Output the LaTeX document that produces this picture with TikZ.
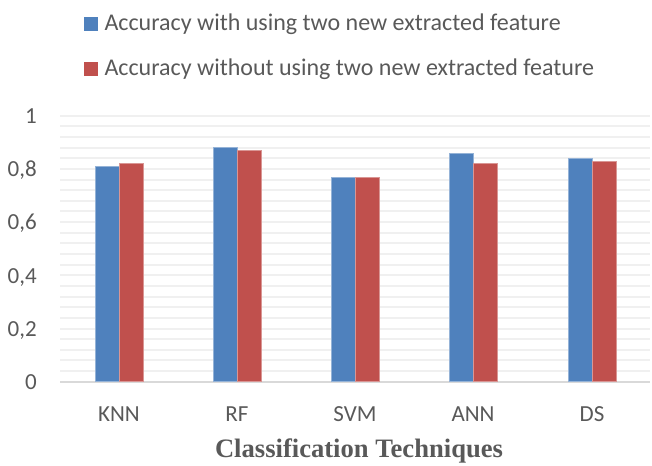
\documentclass[tikz,border=0pt]{standalone}
\usepackage{fontspec}
\setmainfont{Carlito}
\newfontfamily\titlefont{Liberation Serif}
\definecolor{serA}{HTML}{4F81BD}
\definecolor{serB}{HTML}{C0504D}
\definecolor{txt}{HTML}{595959}
\definecolor{grid}{HTML}{F0F0F0}
\definecolor{axis}{HTML}{D9D9D9}
\begin{document}
\begin{tikzpicture}[x=1pt,y=-1pt,
  lbl/.style={inner sep=0pt,text=txt,font=\fontsize{23}{27}\selectfont},
  leglbl/.style={inner sep=0pt,text=txt,font=\fontsize{24}{28}\selectfont},
  keybox/.style={minimum size=13.4pt,inner sep=0pt},
  gridline/.style={draw=grid,line width=2pt},
  barA/.style={fill=serA,draw=serA!60!white,line width=0.6pt},
  barB/.style={fill=serB,draw=serB!60!white,line width=0.6pt}]
\useasboundingbox (0,0) rectangle (652,465);
% value v sits at y = 381.7 - 266 v
\def\yz{381.7}
\def\ys{266}
% minor grid every 0.04
\foreach \k in {1,...,25}
  \draw[gridline] (60,{\yz-\ys*0.04*\k}) -- (650,{\yz-\ys*0.04*\k});
\draw[draw=axis,line width=2pt] (60,\yz) -- (650,\yz);
% y labels
\foreach \v/\t in {0/0,0.2/{0,2},0.4/{0,4},0.6/{0,6},0.8/{0,8},1/1}
  \node[lbl,anchor=base east] (y\v) at (37,{\yz-\ys*\v+7.8}) {\t};
% bars
\foreach \c/\a/\b/\n [count=\i] in {119/0.81/0.82/KNN,237/0.88/0.87/RF,355/0.77/0.77/SVM,473/0.86/0.82/ANN,592/0.84/0.83/DS}{
  \path[barA] (\c-24,\yz) rectangle (\c,{\yz-\ys*\a});
  \path[barB] (\c,\yz) rectangle (\c+24,{\yz-\ys*\b});
  \node[lbl,anchor=base] (cat\i) at (\c,421.7) {\n};
}
% axis title
\node[inner sep=0pt,anchor=base,text=txt,font=\titlefont\bfseries\fontsize{26.6}{30}\selectfont] (xtitle) at (359,457) {Classification Techniques};
% legend
\node[keybox,fill=serA] (keyA) at (91,24) {};
\node[leglbl,anchor=base west] (legA) at (104.3,30.7) {Accuracy with using two new extracted feature};
\node[keybox,fill=serB] (keyB) at (91,69) {};
\node[leglbl,anchor=base west] (legB) at (104.3,75.7) {Accuracy without using two new extracted feature};
\end{tikzpicture}
\end{document}
